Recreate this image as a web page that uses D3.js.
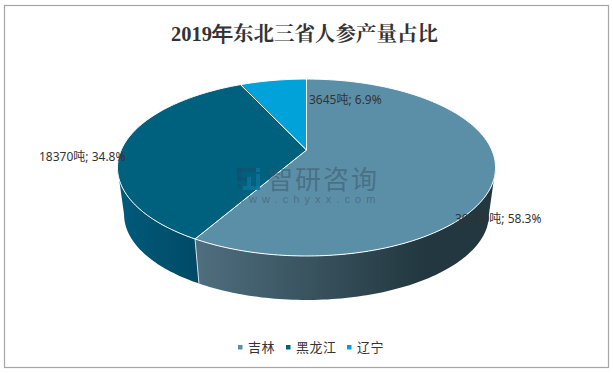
<!DOCTYPE html>
<html>
<head>
<meta charset="utf-8">
<script src="https://cdn.jsdelivr.net/npm/d3@7/dist/d3.min.js"></script>
<style>
  html, body { margin: 0; padding: 0; background: #fff; }
  svg { display: block; }
</style>
</head>
<body>
<svg id="canvas" width="613" height="373"></svg>
<script>
const provinces = ['吉林', '黑龙江', '辽宁'];
const tons = [30780, 18370, 3645];
const percents = ['58.3%', '34.8%', '6.9%'];
const colors = ['#5b8fa8', '#00617f', '#00a2da'];
const chartTitle = ['2019年', '东北三省人参产量占比'];

const width = 613;
const height = 373;
const svg = d3.select('#canvas');
const sans = '"Noto Sans", "Noto Sans CJK SC", sans-serif';

svg.append('rect')
  .attr('x', 4.5).attr('y', 5.5)
  .attr('width', 604).attr('height', 362)
  .attr('fill', '#fff')
  .attr('stroke', '#a6a6a6')
  .attr('stroke-width', 1.2);

// pie with a bit of perspective: apex is above the middle of the top ellipse
const p = 0.198, R = 185.3, S = 85, cx = 306.5;
const project = function (a, plane) {
  const w = 1 + p * Math.cos(a);
  const s = plane === 'top' ? 1 : 0.965;
  const y0 = plane === 'top' ? 150 : 197.7;
  return [cx + s * R * Math.sin(a) / w, y0 - s * S * Math.cos(a) / w];
};
const arcPoints = function (a0, a1, plane) {
  const n = Math.max(2, Math.ceil(Math.abs(a1 - a0) / 0.02));
  return d3.range(n + 1).map(i => project(a0 + (a1 - a0) * i / n, plane));
};
const line = d3.line();

const slices = d3.pie().sort(null)(tons);

// widest points of the cylinder, the side wall stops there
const tangent = Math.acos(-p);

const defs = svg.append('defs');
const sideGradient = function (id, x1, x2, from, to) {
  const g = defs.append('linearGradient')
    .attr('id', id)
    .attr('gradientUnits', 'userSpaceOnUse')
    .attr('x1', x1).attr('x2', x2).attr('y1', 0).attr('y2', 0);
  g.append('stop').attr('offset', 0).attr('stop-color', from);
  g.append('stop').attr('offset', 1).attr('stop-color', to);
};
sideGradient('side-0', 197, 425, '#4f6e7e', '#22373f');
sideGradient('side-1', 122, 197, '#01597a', '#004a66');

const sides = svg.append('g').attr('class', 'sides');
slices.forEach((d, i) => {
  const a0 = Math.max(d.startAngle, tangent);
  const a1 = Math.min(d.endAngle, 2 * Math.PI - tangent);
  if (a1 <= a0) return;
  const pts = arcPoints(a0, a1, 'top').concat(arcPoints(a1, a0, 'bottom'));
  sides.append('path')
    .attr('d', line(pts) + 'Z')
    .attr('fill', `url(#side-${i})`);
});
// seam between the two visible walls
const seam = slices[0].endAngle;
svg.append('path')
  .attr('d', line([project(seam, 'top'), project(seam, 'bottom')]))
  .attr('stroke', '#d5dde1')
  .attr('stroke-width', 1)
  .attr('fill', 'none');

const tops = svg.append('g').attr('class', 'tops');
tops.selectAll('path')
  .data(slices)
  .join('path')
  .attr('d', d => line([[cx, 150]].concat(arcPoints(d.startAngle, d.endAngle, 'top'))) + 'Z')
  .attr('fill', (d, i) => colors[i])
  .attr('stroke', '#fff')
  .attr('stroke-width', 1)
  .attr('stroke-linejoin', 'round');

// watermark
const mark = svg.append('g').attr('class', 'watermark');
const logo = [
  [237, 168, 19, 4, '#12506f'], [237, 168, 4, 13, '#12506f'], [237, 177, 13, 4, '#12506f'],
  [237, 184, 4, 4, '#12506f'], [247, 177, 4, 9, '#0f76a0'], [243, 186, 17, 4, '#0f76a0'],
  [256, 174, 4, 16, '#0f76a0'], [256, 168, 4, 4, '#0f76a0']
];
mark.selectAll('rect')
  .data(logo)
  .join('rect')
  .attr('x', d => d[0]).attr('y', d => d[1])
  .attr('width', d => d[2]).attr('height', d => d[3])
  .attr('fill', d => d[4])
  .attr('fill-opacity', 0.7);
mark.append('text')
  .attr('x', 267).attr('y', 189)
  .attr('font-family', '"Noto Sans CJK SC", sans-serif')
  .attr('font-size', 26)
  .attr('letter-spacing', 2)
  .attr('fill', '#3a5666')
  .attr('fill-opacity', 0.55)
  .text('智研咨询');
mark.append('text')
  .attr('x', 236).attr('y', 203)
  .attr('font-family', '"Liberation Sans", sans-serif')
  .attr('font-size', 11)
  .attr('letter-spacing', 5.1)
  .attr('fill', '#3a5666')
  .attr('fill-opacity', 0.55)
  .text('www.chyxx.com');

// title
const title = svg.append('text')
  .attr('x', width / 2 - 2).attr('y', 41)
  .attr('text-anchor', 'middle')
  .attr('fill', '#333')
  .attr('font-size', 20.5)
  .attr('font-weight', 700);
title.append('tspan').attr('font-family', '"Liberation Serif", serif').text(chartTitle[0]);
title.append('tspan').attr('font-family', '"Noto Serif CJK SC", "Noto Sans CJK SC", serif').text(chartTitle[1]);

// data labels, nudged by hand like the original
const labelAt = [[455, 223], [39, 161], [309, 104]];
svg.append('g').attr('class', 'labels')
  .selectAll('text')
  .data(slices)
  .join('text')
  .attr('x', (d, i) => labelAt[i][0])
  .attr('y', (d, i) => labelAt[i][1])
  .attr('font-family', sans)
  .attr('font-size', 12)
  .attr('fill', '#333')
  .text((d, i) => `${d.value}吨; ${percents[i]}`);

// legend
const legendX = [238, 286, 347];
const legend = svg.append('g').attr('class', 'legend')
  .selectAll('g')
  .data(provinces)
  .join('g')
  .attr('transform', (d, i) => `translate(${legendX[i]},347)`);
legend.append('rect')
  .attr('x', 0).attr('y', -2)
  .attr('width', 4.5).attr('height', 4.5)
  .attr('fill', (d, i) => colors[i]);
legend.append('text')
  .attr('x', 10).attr('y', 5)
  .attr('font-family', '"Noto Sans CJK SC", sans-serif')
  .attr('font-size', 13)
  .attr('letter-spacing', 0.5)
  .attr('fill', '#333')
  .text(d => d);
</script>
</body>
</html>
